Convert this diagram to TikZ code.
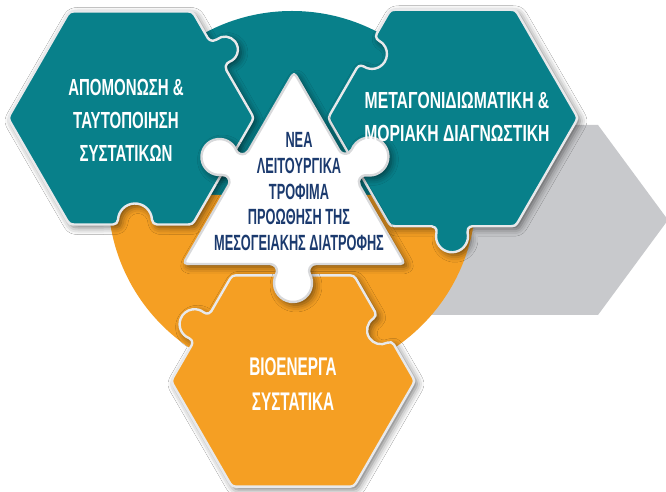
\documentclass[tikz,border=0pt]{standalone}
\usepackage{fontspec}
\usetikzlibrary{calc,shadows.blur}
\newfontfamily\hexfont[FakeStretch=0.645]{Liberation Sans}
\newfontfamily\hexfontwide[FakeStretch=0.675]{Liberation Sans}
\newfontfamily\hexfontnarrow[FakeStretch=0.6]{Liberation Sans}
\newfontfamily\trifont[FakeStretch=0.58]{Liberation Sans}
\definecolor{petrol}{RGB}{8,128,138}
\definecolor{amber}{RGB}{245,159,35}
\definecolor{silver}{RGB}{200,201,204}
\definecolor{navy}{RGB}{27,58,110}
\definecolor{rim}{RGB}{232,233,235}
\newcommand\rc{8pt}
\tikzset{
  % puzzle tab: position on edge, edge direction, neck offset a, angle phi, head radius, fillet radius
  knob/.style n args={6}{insert path={
    -- ([shift={#1},rotate=#2]-#3,0)
    arc[start angle={(#2)-90}, end angle={(#2)+(#4)}, radius=#6]
    arc[start angle={(#2)+180+(#4)}, end angle={(#2)-(#4)}, radius=#5]
    arc[start angle={(#2)+180-(#4)}, end angle={(#2)+270}, radius=#6]}},
  % puzzle socket: same parameters, cut into the piece
  socket/.style n args={6}{insert path={
    -- ([shift={#1},rotate=#2]-#3,0)
    arc[start angle={(#2)+90}, end angle={(#2)-(#4)}, radius=#6]
    arc[start angle={(#2)-180-(#4)}, end angle={(#2)+(#4)}, radius=#5]
    arc[start angle={(#2)-180+(#4)}, end angle={(#2)-270}, radius=#6]}},
  corner/.style n args={3}{insert path={
    -- ($(#2)!\rc!(#1)$) .. controls (#2) .. ($(#2)!\rc!(#3)$)}},
  piece/.style={draw=rim, line width=2.4pt, line join=round,
    blur shadow={shadow xshift=3pt, shadow yshift=-3pt,
      shadow blur radius=7pt, shadow opacity=55}},
  hextext/.style={text=white, align=center, inner sep=0pt,
    font=\hexfont\bfseries\fontsize{23.3}{33}\selectfont},
  tritext/.style={text=navy, align=center, inner sep=0pt,
    font=\trifont\bfseries\fontsize{22}{25.8}\selectfont},
}
\begin{document}
\begin{tikzpicture}[x=1pt,y=1pt]
\useasboundingbox (0,0) rectangle (666,492);
\fill[white] (0,0) rectangle (666,492);

% grey arrow behind everything
\fill[silver] (300,367) -- (598,367) -- (668,272) -- (598,177) -- (300,177) -- cycle;

% central disc: teal upper half, orange lower half
\coordinate (disc) at (292,297);
\fill[petrol] (disc) ++(184,0) arc[start angle=0, end angle=180, radius=184] -- cycle;
\fill[amber] (disc) ++(-184,0) arc[start angle=180, end angle=360, radius=184] -- cycle;

% hexagon vertices
\foreach \n/\cx/\cy/\r in {h1/131/374/123, h2/453/374/125, h3/293/111/122}{
  \foreach \a in {0,60,...,300}{
    \coordinate (\n-\a) at ($(\cx,\cy)+(\a:\r)$);
  }
}
% triangle vertices
\coordinate (t-a) at (294,420);
\coordinate (t-br) at (405,228);
\coordinate (t-bl) at (183,228);

% upper-left piece
\path[piece, fill=petrol]
  ($(h1-180)!\rc!(h1-120)$)
  [corner={h1-180}{h1-120}{h1-60}]
  [corner={h1-120}{h1-60}{h1-0}]
  [knob={(217.1,437.9)}{-60}{18.76}{9.1}{13}{6}]
  [corner={h1-60}{h1-0}{h1-300}]
  [corner={h1-0}{h1-300}{h1-240}]
  [socket={(135,267.5)}{180}{21.98}{-2.6}{17}{5}]
  [corner={h1-300}{h1-240}{h1-180}]
  [corner={h1-240}{h1-180}{h1-120}]
  -- cycle;

% upper-right piece
\path[piece, fill=petrol]
  ($(h2-180)!\rc!(h2-120)$)
  [socket={(366.75,441.1)}{60}{19.97}{2.9}{15}{5}]
  [corner={h2-180}{h2-120}{h2-60}]
  [corner={h2-120}{h2-60}{h2-0}]
  [corner={h2-60}{h2-0}{h2-300}]
  [corner={h2-0}{h2-300}{h2-240}]
  [knob={(452,265.75)}{180}{20.40}{13.8}{16}{5}]
  [corner={h2-300}{h2-240}{h2-180}]
  [corner={h2-240}{h2-180}{h2-120}]
  -- cycle;

% lower piece
\path[piece, fill=amber]
  ($(h3-180)!\rc!(h3-120)$)
  [knob={(201.5,163.8)}{60}{19.77}{8.6}{15}{5}]
  [corner={h3-180}{h3-120}{h3-60}]
  [corner={h3-120}{h3-60}{h3-0}]
  [socket={(384.5,163.8)}{-60}{18.97}{-3.0}{14}{5}]
  [corner={h3-60}{h3-0}{h3-300}]
  [corner={h3-0}{h3-300}{h3-240}]
  [corner={h3-300}{h3-240}{h3-180}]
  [corner={h3-240}{h3-180}{h3-120}]
  -- cycle;

% central triangle
\begin{scope}
\renewcommand\rc{10pt}
\path[piece, fill=white, draw=rim!85!gray]
  ($(t-a)!\rc!(t-br)$)
  [knob={(349.5,324)}{-60}{20.49}{38.0}{19}{7}]
  [corner={t-a}{t-br}{t-bl}]
  [knob={(293,228)}{180}{23.07}{27.5}{19}{7}]
  [corner={t-br}{t-bl}{t-a}]
  [knob={(238.5,324)}{60}{20}{36.87}{18}{7}]
  [corner={t-bl}{t-a}{t-br}]
  -- cycle;
\end{scope}

% labels
\node[hextext] (lab1) at (126,372) {ΑΠΟΜΟΝΩΣΗ \&\\ΤΑΥΤΟΠΟΙΗΣΗ\\ΣΥΣΤΑΤΙΚΩΝ};
\node[hextext, font=\hexfontwide\bfseries\fontsize{23.3}{33}\selectfont] (lab2) at (457,375.5) {ΜΕΤΑΓΟΝΙΔΙΩΜΑΤΙΚΗ \&\\ΜΟΡΙΑΚΗ ΔΙΑΓΝΩΣΤΙΚΗ};
\node[hextext, font=\hexfontnarrow\bfseries\fontsize{25.5}{35}\selectfont] (lab3) at (293,107.5) {ΒΙΟΕΝΕΡΓΑ\\ΣΥΣΤΑΤΙΚΑ};
\node[tritext] (lab4) at (299,300.4) {ΝΕΑ\\ΛΕΙΤΟΥΡΓΙΚΑ\\ΤΡΟΦΙΜΑ\\ΠΡΟΩΘΗΣΗ ΤΗΣ\\ΜΕΣΟΓΕΙΑΚΗΣ ΔΙΑΤΡΟΦΗΣ};
\end{tikzpicture}
\end{document}
